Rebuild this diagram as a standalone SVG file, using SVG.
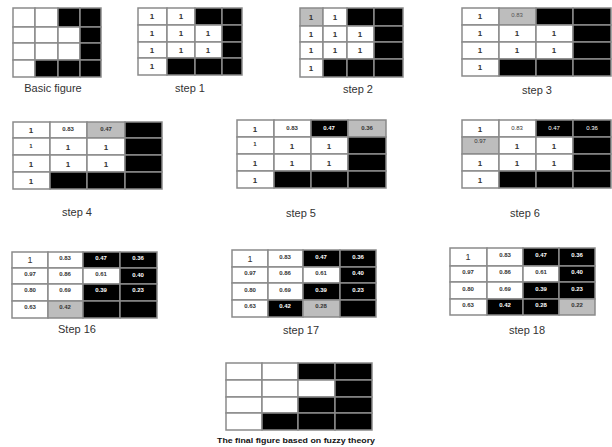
<svg xmlns="http://www.w3.org/2000/svg" width="612" height="447" viewBox="0 0 612 447">
<style>
rect{stroke:#8a8a8a;stroke-width:1.5}
.w{fill:#fff}.k{fill:#000}.g{fill:#bdbdbd}
text{font-family:"Liberation Sans",Arial,sans-serif;text-anchor:middle}
.o{font-size:8px;font-weight:bold;fill:#333}
.d{font-size:6px;font-weight:bold;fill:#333}
.dw{font-size:6px;font-weight:bold;fill:#fff}
.lb{font-size:11px;fill:#333}
.ft{font-size:6.3px;font-weight:bold;fill:#111}
</style>
<rect x="0" y="0" width="612" height="447" style="fill:#fff;stroke:none"/>
<!-- Basic figure -->
<g id="basic">
<rect class="w" x="13" y="8" width="22" height="19"/><rect class="w" x="35" y="8" width="23" height="19"/><rect class="k" x="58" y="8" width="22" height="19"/><rect class="k" x="80" y="8" width="21" height="19"/>
<rect class="w" x="13" y="27" width="22" height="16"/><rect class="w" x="35" y="27" width="23" height="16"/><rect class="w" x="58" y="27" width="22" height="16"/><rect class="k" x="80" y="27" width="21" height="16"/>
<rect class="w" x="13" y="43" width="22" height="17"/><rect class="w" x="35" y="43" width="23" height="17"/><rect class="w" x="58" y="43" width="22" height="17"/><rect class="k" x="80" y="43" width="21" height="17"/>
<rect class="w" x="13" y="60" width="22" height="17"/><rect class="k" x="35" y="60" width="23" height="17"/><rect class="k" x="58" y="60" width="22" height="17"/><rect class="k" x="80" y="60" width="21" height="17"/>
<text class="lb" x="53" y="92">Basic figure</text>
</g>
<!-- step 1 -->
<g id="step1">
<rect class="w" x="138" y="8" width="29" height="17"/><rect class="w" x="167" y="8" width="28" height="17"/><rect class="k" x="195" y="8" width="27" height="17"/><rect class="k" x="222" y="8" width="20" height="17"/>
<rect class="w" x="138" y="25" width="29" height="17"/><rect class="w" x="167" y="25" width="28" height="17"/><rect class="w" x="195" y="25" width="27" height="17"/><rect class="k" x="222" y="25" width="20" height="17"/>
<rect class="w" x="138" y="42" width="29" height="16"/><rect class="w" x="167" y="42" width="28" height="16"/><rect class="w" x="195" y="42" width="27" height="16"/><rect class="k" x="222" y="42" width="20" height="16"/>
<rect class="w" x="138" y="58" width="29" height="17"/><rect class="k" x="167" y="58" width="28" height="17"/><rect class="k" x="195" y="58" width="27" height="17"/><rect class="k" x="222" y="58" width="20" height="17"/>
<text class="o" x="152" y="19">1</text><text class="o" x="181" y="19">1</text>
<text class="o" x="152" y="36">1</text><text class="o" x="181" y="36">1</text><text class="o" x="208" y="36">1</text>
<text class="o" x="152" y="53">1</text><text class="o" x="181" y="53">1</text><text class="o" x="208" y="53">1</text>
<text class="o" x="152" y="69">1</text>
<text class="lb" x="190" y="92">step 1</text>
</g>
<!-- step 2 -->
<g id="step2">
<rect class="g" x="300" y="8" width="23" height="18"/><rect class="w" x="323" y="8" width="24" height="18"/><rect class="k" x="347" y="8" width="27" height="18"/><rect class="k" x="374" y="8" width="29" height="18"/>
<rect class="w" x="300" y="26" width="23" height="16"/><rect class="w" x="323" y="26" width="24" height="16"/><rect class="w" x="347" y="26" width="27" height="16"/><rect class="k" x="374" y="26" width="29" height="16"/>
<rect class="w" x="300" y="42" width="23" height="17"/><rect class="w" x="323" y="42" width="24" height="17"/><rect class="w" x="347" y="42" width="27" height="17"/><rect class="k" x="374" y="42" width="29" height="17"/>
<rect class="w" x="300" y="59" width="23" height="18"/><rect class="k" x="323" y="59" width="24" height="18"/><rect class="k" x="347" y="59" width="27" height="18"/><rect class="k" x="374" y="59" width="29" height="18"/>
<text class="o" x="311" y="20">1</text><text class="o" x="335" y="20">1</text>
<text class="o" x="311" y="37">1</text><text class="o" x="335" y="37">1</text><text class="o" x="360" y="37">1</text>
<text class="o" x="311" y="53">1</text><text class="o" x="335" y="53">1</text><text class="o" x="360" y="53">1</text>
<text class="o" x="311" y="71">1</text>
<text class="lb" x="358" y="93">step 2</text>
</g>
<!-- step 3 -->
<g id="step3">
<rect class="w" x="462" y="8" width="37" height="17"/><rect class="g" x="499" y="8" width="37" height="17"/><rect class="k" x="536" y="8" width="37" height="17"/><rect class="k" x="573" y="8" width="38" height="17"/>
<rect class="w" x="462" y="25" width="37" height="17"/><rect class="w" x="499" y="25" width="37" height="17"/><rect class="w" x="536" y="25" width="37" height="17"/><rect class="k" x="573" y="25" width="38" height="17"/>
<rect class="w" x="462" y="42" width="37" height="17"/><rect class="w" x="499" y="42" width="37" height="17"/><rect class="w" x="536" y="42" width="37" height="17"/><rect class="k" x="573" y="42" width="38" height="17"/>
<rect class="w" x="462" y="59" width="37" height="17"/><rect class="k" x="499" y="59" width="37" height="17"/><rect class="k" x="536" y="59" width="37" height="17"/><rect class="k" x="573" y="59" width="38" height="17"/>
<text class="o" x="480" y="19">1</text><text class="d" x="517" y="17" style="font-weight:normal;fill:#555">0.83</text>
<text class="o" x="480" y="36">1</text><text class="o" x="517" y="36">1</text><text class="o" x="554" y="36">1</text>
<text class="o" x="480" y="53">1</text><text class="o" x="517" y="53">1</text><text class="o" x="554" y="53">1</text>
<text class="o" x="480" y="70">1</text>
<text class="lb" x="537" y="94">step 3</text>
</g>
<!-- step 4 -->
<g id="step4">
<rect class="w" x="13" y="122" width="37" height="16"/><rect class="w" x="50" y="122" width="37" height="16"/><rect class="g" x="87" y="122" width="38" height="16"/><rect class="k" x="125" y="122" width="37" height="16"/>
<rect class="w" x="13" y="138" width="37" height="17"/><rect class="w" x="50" y="138" width="37" height="17"/><rect class="w" x="87" y="138" width="38" height="17"/><rect class="k" x="125" y="138" width="37" height="17"/>
<rect class="w" x="13" y="155" width="37" height="17"/><rect class="w" x="50" y="155" width="37" height="17"/><rect class="w" x="87" y="155" width="38" height="17"/><rect class="k" x="125" y="155" width="37" height="17"/>
<rect class="w" x="13" y="172" width="37" height="17"/><rect class="k" x="50" y="172" width="37" height="17"/><rect class="k" x="87" y="172" width="38" height="17"/><rect class="k" x="125" y="172" width="37" height="17"/>
<text class="o" x="31" y="133">1</text><text class="d" x="68" y="131">0.83</text><text class="d" x="106" y="131">0.47</text>
<text class="d" x="31" y="148">1</text><text class="o" x="68" y="150">1</text><text class="o" x="106" y="150">1</text>
<text class="o" x="31" y="167">1</text><text class="o" x="68" y="167">1</text><text class="o" x="106" y="167">1</text>
<text class="o" x="31" y="184">1</text>
<text class="lb" x="77" y="216">step 4</text>
</g>
<!-- step 5 -->
<g id="step5">
<rect class="w" x="237" y="120" width="37" height="17"/><rect class="w" x="274" y="120" width="37" height="17"/><rect class="k" x="311" y="120" width="37" height="17"/><rect class="g" x="348" y="120" width="38" height="17"/>
<rect class="w" x="237" y="137" width="37" height="17"/><rect class="w" x="274" y="137" width="37" height="17"/><rect class="w" x="311" y="137" width="37" height="17"/><rect class="k" x="348" y="137" width="38" height="17"/>
<rect class="w" x="237" y="154" width="37" height="17"/><rect class="w" x="274" y="154" width="37" height="17"/><rect class="w" x="311" y="154" width="37" height="17"/><rect class="k" x="348" y="154" width="38" height="17"/>
<rect class="w" x="237" y="171" width="37" height="17"/><rect class="k" x="274" y="171" width="37" height="17"/><rect class="k" x="311" y="171" width="37" height="17"/><rect class="k" x="348" y="171" width="38" height="17"/>
<text class="o" x="255" y="132">1</text><text class="d" x="292" y="130">0.83</text><text class="dw" x="329" y="130">0.47</text><text class="d" x="367" y="130">0.36</text>
<text class="d" x="255" y="146">1</text><text class="o" x="292" y="149">1</text><text class="o" x="329" y="149">1</text>
<text class="o" x="255" y="166">1</text><text class="o" x="292" y="166">1</text><text class="o" x="329" y="166">1</text>
<text class="o" x="255" y="183">1</text>
<text class="lb" x="301" y="217">step 5</text>
</g>
<!-- step 6 -->
<g id="step6">
<rect class="w" x="462" y="120" width="37" height="17"/><rect class="w" x="499" y="120" width="37" height="17"/><rect class="k" x="536" y="120" width="37" height="17"/><rect class="k" x="573" y="120" width="38" height="17"/>
<rect class="g" x="462" y="137" width="37" height="17"/><rect class="w" x="499" y="137" width="37" height="17"/><rect class="w" x="536" y="137" width="37" height="17"/><rect class="k" x="573" y="137" width="38" height="17"/>
<rect class="w" x="462" y="154" width="37" height="17"/><rect class="w" x="499" y="154" width="37" height="17"/><rect class="w" x="536" y="154" width="37" height="17"/><rect class="k" x="573" y="154" width="38" height="17"/>
<rect class="w" x="462" y="171" width="37" height="17"/><rect class="k" x="499" y="171" width="37" height="17"/><rect class="k" x="536" y="171" width="37" height="17"/><rect class="k" x="573" y="171" width="38" height="17"/>
<text class="o" x="480" y="132">1</text><text class="d" x="517" y="130" style="font-weight:normal">0.83</text><text class="dw" x="554" y="130" style="font-weight:normal">0.47</text><text class="dw" x="592" y="130" style="font-weight:normal">0.36</text>
<text class="d" x="480" y="143" style="font-weight:normal">0.97</text><text class="o" x="517" y="149">1</text><text class="o" x="554" y="149">1</text>
<text class="o" x="480" y="166">1</text><text class="o" x="517" y="166">1</text><text class="o" x="554" y="166">1</text>
<text class="o" x="480" y="183">1</text>
<text class="lb" x="525" y="217">step 6</text>
</g>
<!-- step 16 -->
<g id="step16">
<rect class="w" x="12" y="252" width="36" height="16"/><rect class="w" x="48" y="252" width="35" height="16"/><rect class="k" x="83" y="252" width="37" height="16"/><rect class="k" x="120" y="252" width="37" height="16"/>
<rect class="w" x="12" y="268" width="36" height="16"/><rect class="w" x="48" y="268" width="35" height="16"/><rect class="w" x="83" y="268" width="37" height="16"/><rect class="k" x="120" y="268" width="37" height="16"/>
<rect class="w" x="12" y="284" width="36" height="17"/><rect class="w" x="48" y="284" width="35" height="17"/><rect class="k" x="83" y="284" width="37" height="17"/><rect class="k" x="120" y="284" width="37" height="17"/>
<rect class="w" x="12" y="301" width="36" height="17"/><rect class="g" x="48" y="301" width="35" height="17"/><rect class="k" x="83" y="301" width="37" height="17"/><rect class="k" x="120" y="301" width="37" height="17"/>
<text class="o" x="30" y="263" style="font-weight:normal;font-size:9px">1</text><text class="d" x="65" y="260">0.83</text><text class="dw" x="101" y="260">0.47</text><text class="dw" x="138" y="260">0.36</text>
<text class="d" x="30" y="276">0.97</text><text class="d" x="65" y="276">0.86</text><text class="d" x="101" y="276">0.61</text><text class="dw" x="138" y="277">0.40</text>
<text class="d" x="30" y="292">0.80</text><text class="d" x="65" y="292">0.69</text><text class="dw" x="101" y="292">0.39</text><text class="dw" x="138" y="292">0.23</text>
<text class="d" x="30" y="309">0.63</text><text class="d" x="65" y="309">0.42</text>
<text class="lb" x="77" y="333">Step 16</text>
</g>
<!-- step 17 -->
<g id="step17">
<rect class="w" x="232" y="250" width="36" height="17"/><rect class="w" x="268" y="250" width="35" height="17"/><rect class="k" x="303" y="250" width="37" height="17"/><rect class="k" x="340" y="250" width="36" height="17"/>
<rect class="w" x="232" y="267" width="36" height="16"/><rect class="w" x="268" y="267" width="35" height="16"/><rect class="w" x="303" y="267" width="37" height="16"/><rect class="k" x="340" y="267" width="36" height="16"/>
<rect class="w" x="232" y="283" width="36" height="17"/><rect class="w" x="268" y="283" width="35" height="17"/><rect class="k" x="303" y="283" width="37" height="17"/><rect class="k" x="340" y="283" width="36" height="17"/>
<rect class="w" x="232" y="300" width="36" height="17"/><rect class="k" x="268" y="300" width="35" height="17"/><rect class="g" x="303" y="300" width="37" height="17"/><rect class="k" x="340" y="300" width="36" height="17"/>
<text class="o" x="250" y="262" style="font-weight:normal;font-size:9px">1</text><text class="d" x="285" y="259">0.83</text><text class="dw" x="321" y="259">0.47</text><text class="dw" x="358" y="259">0.36</text>
<text class="d" x="250" y="275">0.97</text><text class="d" x="285" y="275">0.86</text><text class="d" x="321" y="275">0.61</text><text class="dw" x="358" y="275">0.40</text>
<text class="d" x="250" y="292">0.80</text><text class="d" x="285" y="292">0.69</text><text class="dw" x="321" y="292">0.39</text><text class="dw" x="358" y="292">0.23</text>
<text class="d" x="250" y="308">0.63</text><text class="dw" x="285" y="308">0.42</text><text class="d" x="321" y="308">0.28</text>
<text class="lb" x="301" y="334">step 17</text>
</g>
<!-- step 18 -->
<g id="step18">
<rect class="w" x="450" y="248" width="37" height="18"/><rect class="w" x="487" y="248" width="36" height="18"/><rect class="k" x="523" y="248" width="36" height="18"/><rect class="k" x="559" y="248" width="36" height="18"/>
<rect class="w" x="450" y="266" width="37" height="16"/><rect class="w" x="487" y="266" width="36" height="16"/><rect class="w" x="523" y="266" width="36" height="16"/><rect class="k" x="559" y="266" width="36" height="16"/>
<rect class="w" x="450" y="282" width="37" height="17"/><rect class="w" x="487" y="282" width="36" height="17"/><rect class="k" x="523" y="282" width="36" height="17"/><rect class="k" x="559" y="282" width="36" height="17"/>
<rect class="w" x="450" y="299" width="37" height="16"/><rect class="k" x="487" y="299" width="36" height="16"/><rect class="k" x="523" y="299" width="36" height="16"/><rect class="g" x="559" y="299" width="36" height="16"/>
<text class="o" x="468" y="260" style="font-weight:normal;font-size:9px">1</text><text class="d" x="505" y="257">0.83</text><text class="dw" x="541" y="257">0.47</text><text class="dw" x="577" y="257">0.36</text>
<text class="d" x="468" y="274">0.97</text><text class="d" x="505" y="274">0.86</text><text class="d" x="541" y="274">0.61</text><text class="dw" x="577" y="274">0.40</text>
<text class="d" x="468" y="291">0.80</text><text class="d" x="505" y="291">0.69</text><text class="dw" x="541" y="291">0.39</text><text class="dw" x="577" y="291">0.23</text>
<text class="d" x="468" y="307">0.63</text><text class="dw" x="505" y="307">0.42</text><text class="dw" x="541" y="307">0.28</text><text class="d" x="577" y="307">0.22</text>
<text class="lb" x="527" y="334">step 18</text>
</g>
<!-- final -->
<g id="final">
<rect class="w" x="226" y="363" width="36" height="17"/><rect class="w" x="262" y="363" width="36" height="17"/><rect class="k" x="298" y="363" width="37" height="17"/><rect class="k" x="335" y="363" width="37" height="17"/>
<rect class="w" x="226" y="380" width="36" height="17"/><rect class="w" x="262" y="380" width="36" height="17"/><rect class="w" x="298" y="380" width="37" height="17"/><rect class="k" x="335" y="380" width="37" height="17"/>
<rect class="w" x="226" y="397" width="36" height="16"/><rect class="w" x="262" y="397" width="36" height="16"/><rect class="k" x="298" y="397" width="37" height="16"/><rect class="k" x="335" y="397" width="37" height="16"/>
<rect class="w" x="226" y="413" width="36" height="17"/><rect class="k" x="262" y="413" width="36" height="17"/><rect class="k" x="298" y="413" width="37" height="17"/><rect class="k" x="335" y="413" width="37" height="17"/>
<text class="ft" x="296" y="443" textLength="158" lengthAdjust="spacingAndGlyphs">The final figure based on fuzzy theory</text>
</g>
<g id="connectors"/>
</svg>
